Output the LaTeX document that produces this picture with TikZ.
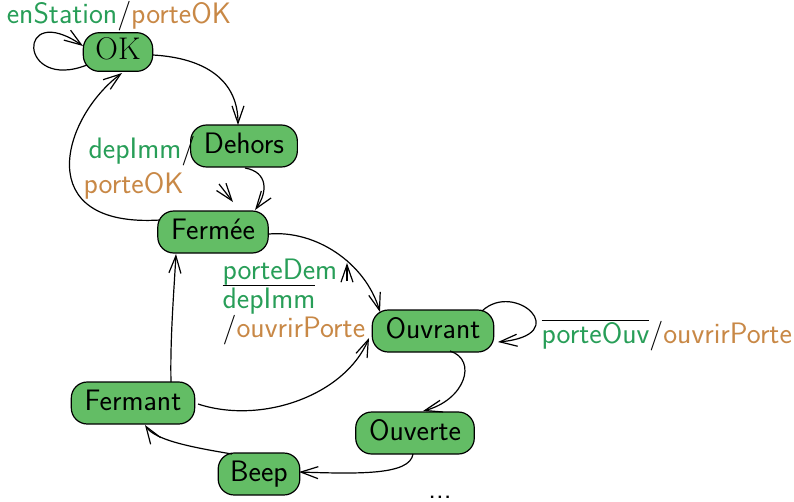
\documentclass[tikz,border=0pt]{standalone}
\usepackage{fontspec}
\usetikzlibrary{arrows.meta}
\definecolor{stategreen}{RGB}{99,189,101}
\definecolor{ingreen}{RGB}{40,158,88}
\definecolor{outbrown}{RGB}{200,136,70}
\newcommand{\inp}[1]{\textcolor{ingreen}{#1}}
\newcommand{\outp}[1]{\textcolor{outbrown}{#1}}
\newcommand{\negsig}[1]{\ensuremath{\overline{\mbox{#1}}}}
\begin{document}
\begin{tikzpicture}[x=0.75pt,y=0.75pt,
  line width=0.9pt,
  >={Straight Barb[length=13pt,width=9pt]},
  state/.style={draw=black, fill=stategreen, rounded corners=12pt,
    minimum height=31.5pt, inner xsep=10pt, inner ysep=0pt,
    text height=15.5pt, text depth=4pt,
    font=\fontsize{22.2}{26}\selectfont\sffamily},
  lbl/.style={inner sep=0pt, font=\fontsize{22.2}{26}\selectfont\sffamily},
  trans/.style={->}]
\useasboundingbox (0,0) rectangle (794,-501);

% states
\node[state, font=\fontsize{23.5}{27}\selectfont\rmfamily, minimum height=29pt,
      minimum width=52pt, inner xsep=8pt] (ok) at (118,-52) {OK};
\node[state] (dehors)  at (244,-146) {Dehors};
\node[state] (fermee)  at (213,-232) {Fermée};
\node[state] (ouvrant) at (433,-331) {Ouvrant};
\node[state] (fermant) at (133,-403) {Fermant};
\node[state] (ouverte) at (415,-433) {Ouverte};
\node[state, inner xsep=9pt] (beep) at (259,-474) {Beep};

% transitions
\draw[trans] ([shift={(-31,-13)}]ok.center) .. controls (18,-92) and (16,0) .. ([shift={(-35,6)}]ok.center);
\node[lbl, anchor=base] (lblstation) at (119,-23) {\inp{enStation}/\outp{porteOK}};

\draw[trans] ([shift={(35,-3)}]ok.center) .. controls (205,-58) and (238,-80) .. ([shift={(-6,21)}]dehors.center);

\draw[trans] ([shift={(1,-22)}]dehors.center) .. controls (268,-172) and (268,-192) .. ([shift={(42,22)}]fermee.center);

\draw[trans] ([shift={(-53,12)}]fermee.center) .. controls (30,-228) and (62,-118) .. ([shift={(4,-21)}]ok.center);
\node[lbl, anchor=base west] (lbldep) at (88,-158) {\inp{depImm}/};
\node[lbl, anchor=base west] (lblok) at (83,-193) {\outp{porteOK}};

\draw[trans] ([shift={(56,-2)}]fermee.center) .. controls (315,-230) and (365,-262) .. ([shift={(-53,19)}]ouvrant.center);
\node[lbl, anchor=base west] (lbldem) at (222,-279) {\inp{porteDem}};
\node[lbl, anchor=base west] (lblimm) at (222,-308) {\negsig{\inp{depImm}}};
\node[lbl, anchor=base west] (lblouvr) at (222,-337) {/\outp{ouvrirPorte}};

\draw[trans] ([shift={(49,20)}]ouvrant.center) .. controls (515,-280) and (575,-335) .. ([shift={(65,-11)}]ouvrant.center);
\node[lbl, anchor=base west] (lblouv) at (541,-343) {\negsig{\inp{porteOuv}}/\outp{ouvrirPorte}};

\draw[trans] ([shift={(17,-20)}]ouvrant.center) .. controls (478,-360) and (465,-400) .. ([shift={(8,22)}]ouverte.center);

\draw[trans] ([shift={(-2,-21)}]ouverte.center) .. controls (410,-475) and (360,-474) .. ([shift={(40,2)}]beep.center);

\draw[trans] ([shift={(-27,20)}]beep.center) .. controls (190,-447) and (155,-440) .. ([shift={(12,-22)}]fermant.center);

\draw[trans] ([shift={(38,21)}]fermant.center) .. controls (170,-340) and (174,-290) .. ([shift={(-37,-22)}]fermee.center);

\draw[trans] ([shift={(65,-1)}]fermant.center) .. controls (262,-425) and (345,-395) .. ([shift={(-64,-7)}]ouvrant.center);

% short stray arrows
\coordinate (tailA) at (219,-184);
\coordinate (tipA) at (233,-202);
\draw[trans] (tailA) -- (tipA);
\coordinate (tailB) at (347,-281);
\coordinate (tipB) at (347,-263);
\draw[trans] (tailB) -- (tipB);

\node[lbl, anchor=base, text height=4pt, text depth=0pt] (more) at (440,-498) {...};
\end{tikzpicture}
\end{document}
